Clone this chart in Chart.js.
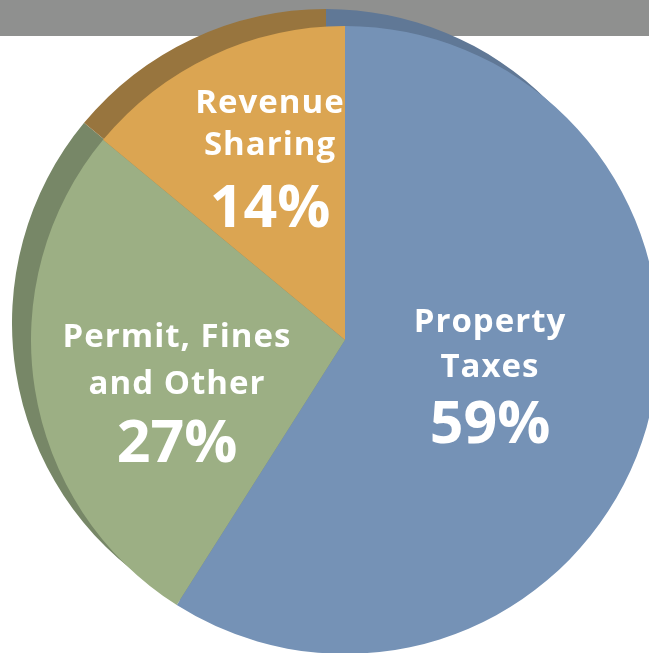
<!DOCTYPE html>
<html>
<head>
<meta charset="utf-8">
<script src="https://cdn.jsdelivr.net/npm/chart.js@4.4.1/dist/chart.umd.min.js"></script>
<style>
  html, body { margin: 0; padding: 0; background: #fff; overflow: hidden; }
  #stage { position: relative; width: 649px; height: 653px; overflow: hidden; }
  #topBar { position: absolute; left: 0; top: 0; width: 649px; height: 36px; background: #8f908f; }
  canvas { position: absolute; }
  #depthCanvas { left: 12px; top: 9px; }
  #faceCanvas { left: 31px; top: 26px; }
  .lbl {
    position: absolute;
    transform: translateX(-50%);
    white-space: nowrap;
    color: #fff;
    font-family: "Open Sans", "Noto Sans", sans-serif;
    font-weight: bold;
    line-height: 1;
  }
</style>
</head>
<body>
<div id="stage">
  <div id="topBar"></div>
  <canvas id="depthCanvas" width="628" height="628"></canvas>
  <canvas id="faceCanvas" width="628" height="628"></canvas>
</div>
<script>
// chart data
const categories = ['Property Taxes', 'Permit, Fines and Other', 'Revenue Sharing'];
const shares = [59, 27, 14];
const labelLines = [['Property', 'Taxes'], ['Permit, Fines', 'and Other'], ['Revenue', 'Sharing']];

const faceColors = ['#7592b6', '#9caf84', '#dba552'];
const sideColors = ['#607896', '#778767', '#98753e'];

// where each label block sits: centre x and baselines of the lines
const labelLayout = [
    { x: 490, base: [332, 377], pctBase: 443 },
    { x: 177, base: [347, 394], pctBase: 462 },
    { x: 270, base: [113, 155], pctBase: 227 }
];

function makePie(id, colors) {
    const ctx = document.getElementById(id).getContext('2d');
    return new Chart(ctx, {
        type: 'pie',
        data: {
            labels: categories,
            datasets: [{
                data: shares,
                backgroundColor: colors,
                borderWidth: 0,
                hoverOffset: 0
            }]
        },
        options: {
            responsive: false,
            animation: false,
            events: [],
            layout: { padding: 0 },
            plugins: {
                legend: { display: false },
                tooltip: { enabled: false }
            }
        }
    });
}

makePie('depthCanvas', sideColors);   // extruded side, shifted up-left
makePie('faceCanvas', faceColors);    // top face

// text labels on the slices
const stage = document.getElementById('stage');
const lineSize = 33;
const pctSize = 59;
const ascent = 0.888; // baseline offset for line-height 1

function addText(text, x, baseline, size, spacing) {
    const div = document.createElement('div');
    div.className = 'lbl';
    div.textContent = text;
    div.style.fontSize = size + 'px';
    div.style.letterSpacing = spacing + 'px';
    div.style.left = x + 'px';
    div.style.top = (baseline - ascent * size) + 'px';
    stage.appendChild(div);
}

labelLines.forEach(function(lines, i) {
    const pos = labelLayout[i];
    lines.forEach(function(line, j) {
        addText(line, pos.x, pos.base[j], lineSize, 1);
    });
    addText(shares[i] + '%', pos.x, pos.pctBase, pctSize, 0);
});
</script>
</body>
</html>
